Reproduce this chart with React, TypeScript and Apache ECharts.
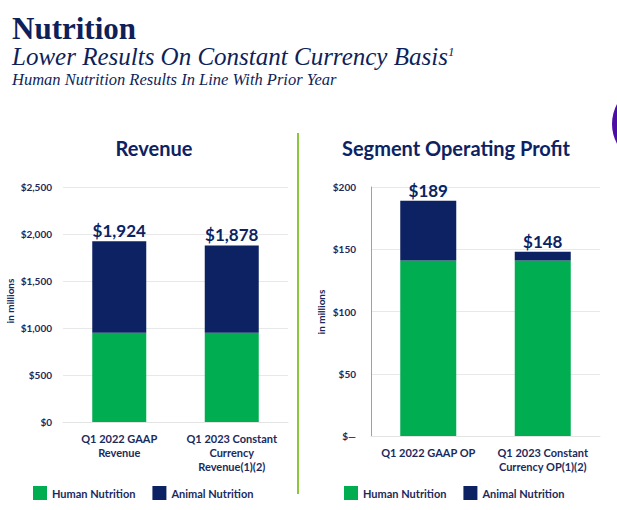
import React, { useEffect, useRef } from "react";
import * as echarts from "echarts";

const revenueCategories = ["Q1 2022 GAAP\nRevenue", "Q1 2023 Constant\nCurrency\nRevenue(1)(2)"];
const opCategories = ["Q1 2022 GAAP OP", "Q1 2023 Constant\nCurrency OP(1)(2)"];
const revenueHuman = [950, 950];
const revenueAnimal = [974, 928];
const revenueTotals = [1924, 1878];
const opHuman = [141, 141];
const opAnimal = [48, 7];
const opTotals = [189, 148];
const seriesNames = ["Human Nutrition", "Animal Nutrition"];

const NAVY = "#0c2262";
const GREEN = "#00ad50";
const TEXT = "#1b2a5c";
const SANS = "Lato, 'Open Sans', sans-serif";
const SERIF = "'Liberation Serif', serif";

const fmtMoney = (v: number) => (v === 0 ? "$0" : "$" + v.toLocaleString("en-US"));

export default function App() {
  const ref = useRef<HTMLDivElement>(null);
  useEffect(() => {
    if (!ref.current) return;
    const chart = echarts.init(ref.current, undefined, { renderer: "svg" });
    const axisLabel = { color: TEXT, fontFamily: SANS, fontWeight: "bold" as const, fontSize: 10 };
    const catLabel = { color: TEXT, fontFamily: SANS, fontWeight: "bold" as const, fontSize: 11, lineHeight: 14, margin: 9, interval: 0 };
    const valueLabel = (totals: number[]) => ({
      show: true,
      position: "top" as const,
      distance: 2,
      color: NAVY,
      fontFamily: SANS,
      fontWeight: "bold" as const,
      fontSize: 17,
      formatter: (p: any) => fmtMoney(totals[p.dataIndex]),
    });
    const legendBase = {
      icon: "rect",
      itemWidth: 14,
      itemHeight: 14,
      itemGap: 17,
      padding: 0,
      data: seriesNames,
      textStyle: { color: TEXT, fontFamily: SANS, fontWeight: "bold" as const, fontSize: 11 },
      selectedMode: false,
    };
    chart.setOption({
      animation: false,
      backgroundColor: "#ffffff",
      grid: [
        { left: 63, right: 329, top: 187, bottom: 88 },
        { left: 371, right: 17, top: 187, bottom: 74 },
      ],
      legend: [
        { ...legendBase, left: 33, top: 486 },
        { ...legendBase, left: 344, top: 486 },
      ],
      xAxis: [
        {
          type: "category", gridIndex: 0, data: revenueCategories,
          axisTick: { show: false }, axisLine: { lineStyle: { color: "#e3e3e3" } },
          axisLabel: catLabel,
        },
        {
          type: "category", gridIndex: 1, data: opCategories,
          axisTick: { show: false }, axisLine: { lineStyle: { color: "#e3e3e3" } },
          axisLabel: catLabel,
        },
      ],
      yAxis: [
        {
          type: "value", gridIndex: 0, min: 0, max: 2500, interval: 500,
          axisLine: { show: false }, axisTick: { show: false },
          splitLine: { lineStyle: { color: "#e8e8e8" } },
          axisLabel: { ...axisLabel, margin: 11, formatter: (v: number) => fmtMoney(v) },
        },
        {
          type: "value", gridIndex: 1, min: 0, max: 200, interval: 50,
          axisLine: { show: true, lineStyle: { color: "#a0a0a0" } }, axisTick: { show: false },
          splitLine: { lineStyle: { color: "#e8e8e8" } },
          axisLabel: { ...axisLabel, margin: 15, formatter: (v: number) => (v === 0 ? "$\u2014" : "$" + v) },
        },
      ],
      series: [
        { name: seriesNames[0], type: "bar", stack: "rev", xAxisIndex: 0, yAxisIndex: 0, barWidth: 54, data: revenueHuman, itemStyle: { color: GREEN } },
        { name: seriesNames[1], type: "bar", stack: "rev", xAxisIndex: 0, yAxisIndex: 0, barWidth: 54, data: revenueAnimal, itemStyle: { color: NAVY }, label: valueLabel(revenueTotals) },
        { name: seriesNames[0], type: "bar", stack: "op", xAxisIndex: 1, yAxisIndex: 1, barWidth: 56, data: opHuman, itemStyle: { color: GREEN } },
        { name: seriesNames[1], type: "bar", stack: "op", xAxisIndex: 1, yAxisIndex: 1, barWidth: 56, data: opAnimal, itemStyle: { color: NAVY }, label: valueLabel(opTotals) },
      ],
      graphic: [
        { type: "text", left: 12, top: 13, style: { text: "Nutrition", fill: "#0f1f5a", font: `bold 31px ${SERIF}`, lineHeight: 29 } },
        {
          type: "text", left: 12, top: 44,
          style: {
            text: "{m|Lower Results On Constant Currency Basis}{s|1}",
            rich: {
              m: { fill: "#0f1f5a", fontFamily: SERIF, fontStyle: "italic", fontSize: 25, lineHeight: 24 },
              s: { fill: "#0f1f5a", fontFamily: SERIF, fontStyle: "italic", fontSize: 13, verticalAlign: "top", lineHeight: 13, padding: [0, 0, 10, 0] },
            },
          },
        },
        { type: "text", left: 12, top: 71, style: { text: "Human Nutrition Results In Line With Prior Year", fill: "#0f1f5a", font: `italic 16.5px ${SERIF}`, lineHeight: 17 } },
        { type: "text", x: 154, y: 148, style: { text: "Revenue", fill: NAVY, font: `bold 20px ${SANS}`, align: "center", verticalAlign: "middle" } },
        { type: "text", x: 456, y: 148, style: { text: "Segment Operating Profit", fill: NAVY, font: `bold 20px ${SANS}`, align: "center", verticalAlign: "middle" } },
        { type: "text", x: 10, y: 301, rotation: Math.PI / 2, style: { text: "in millions", fill: TEXT, font: `bold 10px ${SANS}`, align: "center", verticalAlign: "middle" } },
        { type: "text", x: 321, y: 312, rotation: Math.PI / 2, style: { text: "in millions", fill: TEXT, font: `bold 10px ${SANS}`, align: "center", verticalAlign: "middle" } },
        { type: "line", shape: { x1: 298, y1: 133, x2: 298, y2: 494 }, style: { stroke: "#8cc63f", lineWidth: 2 } },
        { type: "circle", shape: { cx: 654, cy: 124, r: 42 }, style: { fill: "#4c0ea6" } },
      ],
    });
    return () => chart.dispose();
  }, []);
  return <div ref={ref} style={{ position: "absolute", left: 0, top: 0, width: 617, height: 510 }} />;
}
